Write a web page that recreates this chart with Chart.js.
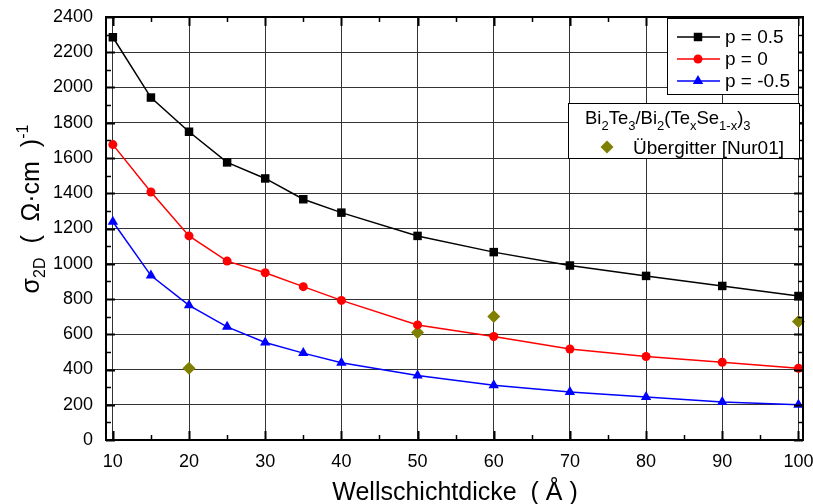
<!DOCTYPE html>
<html>
<head>
<meta charset="utf-8">
<script src="https://cdn.jsdelivr.net/npm/chart.js@4.4.0/dist/chart.umd.min.js"></script>
<style>
  html, body { margin: 0; padding: 0; background: #fff; }
  #wrap { width: 813px; height: 504px; }
</style>
</head>
<body>
<div id="wrap"><canvas id="chart" width="813" height="504"></canvas></div>
<script>
// ---------------- DATA ----------------
const thickness = [10, 15, 20, 25, 30, 35, 40, 50, 60, 70, 80, 90, 100];
const sigmaP05 = [2285, 1943, 1749, 1575, 1484, 1366, 1290, 1158, 1066, 990, 931, 874, 817];
const sigmaP0 = [1676, 1407, 1158, 1015, 949, 870, 792, 653, 587, 516, 474, 441, 407];
const sigmaPm05 = [1238, 933, 764, 642, 553, 493, 438, 366, 310, 273, 244, 215, 200];

const nurX = [20, 50, 60, 100];
const nurY = [407, 610, 701, 672];

const seriesLabels = ['p = 0.5', 'p = 0', 'p = -0.5'];
const nurLabel = 'Übergitter [Nur01]';

const xTicks = [10, 20, 30, 40, 50, 60, 70, 80, 90, 100];
const yTicks = [0, 200, 400, 600, 800, 1000, 1200, 1400, 1600, 1800, 2000, 2200, 2400];

const FONT = 'Arial, "Liberation Sans", sans-serif';

const toPoints = (xs, ys) => xs.map((x, i) => ({ x, y: ys[i] }));

// ---------------- FRAME + INWARD TICKS ----------------
const framePlugin = {
  id: 'frame',
  afterDatasetsDraw(chart) {
    const { ctx, chartArea: a, scales: { x, y } } = chart;
    ctx.save();
    ctx.strokeStyle = '#000';

    const mid = arr => arr.slice(1).map((v, i) => (v + arr[i]) / 2);

    // x ticks (bottom + top)
    ctx.lineWidth = 2;
    xTicks.forEach(v => {
      const px = Math.round(x.getPixelForValue(v)) + 0.5;
      ctx.beginPath();
      ctx.moveTo(px, a.bottom); ctx.lineTo(px, a.bottom - 9);
      ctx.moveTo(px, a.top); ctx.lineTo(px, a.top + 9);
      ctx.stroke();
    });
    ctx.lineWidth = 1.5;
    mid(xTicks).forEach(v => {
      const px = Math.round(x.getPixelForValue(v)) + 0.5;
      ctx.beginPath();
      ctx.moveTo(px, a.bottom); ctx.lineTo(px, a.bottom - 5);
      ctx.moveTo(px, a.top); ctx.lineTo(px, a.top + 5);
      ctx.stroke();
    });

    // y ticks (left + right)
    ctx.lineWidth = 2;
    yTicks.forEach(v => {
      const py = Math.round(y.getPixelForValue(v)) + 0.5;
      ctx.beginPath();
      ctx.moveTo(a.left, py); ctx.lineTo(a.left + 9, py);
      ctx.moveTo(a.right, py); ctx.lineTo(a.right - 9, py);
      ctx.stroke();
    });
    ctx.lineWidth = 1.5;
    mid(yTicks).forEach(v => {
      const py = Math.round(y.getPixelForValue(v)) + 0.5;
      ctx.beginPath();
      ctx.moveTo(a.left, py); ctx.lineTo(a.left + 5, py);
      ctx.moveTo(a.right, py); ctx.lineTo(a.right - 5, py);
      ctx.stroke();
    });

    ctx.lineWidth = 2;
    ctx.strokeRect(a.left, a.top, a.right - a.left, a.bottom - a.top);
    ctx.restore();
  }
};

// draws a run of [text, shift, size] pieces, returns the end x
function drawRuns(ctx, runs, x, y) {
  runs.forEach(([txt, shift, size]) => {
    ctx.font = `${size}px ${FONT}`;
    ctx.fillText(txt, x, y + shift);
    x += ctx.measureText(txt).width;
  });
  return x;
}
function runsWidth(ctx, runs) {
  let w = 0;
  runs.forEach(([txt, , size]) => {
    ctx.font = `${size}px ${FONT}`;
    w += ctx.measureText(txt).width;
  });
  return w;
}

// ---------------- LEGENDS + AXIS TITLES ----------------
const legendPlugin = {
  id: 'boxLegends',
  afterDraw(chart) {
    const { ctx } = chart;
    ctx.save();
    ctx.textBaseline = 'alphabetic';

    // series legend
    ctx.fillStyle = '#fff';
    ctx.fillRect(667, 18, 132, 76);
    ctx.strokeStyle = '#000';
    ctx.lineWidth = 1;
    ctx.strokeRect(667.5, 18.5, 131, 76);

    const rows = [37, 59, 81];
    [0, 1, 2].forEach(i => {
      const ds = chart.data.datasets[i];
      const yy = rows[i];
      ctx.strokeStyle = ds.borderColor;
      ctx.lineWidth = 1.5;
      ctx.beginPath();
      ctx.moveTo(677, yy); ctx.lineTo(720, yy);
      ctx.stroke();
      ctx.fillStyle = ds.backgroundColor;
      Chart.helpers.drawPoint(ctx, { pointStyle: ds.pointStyle, radius: ds.pointRadius, rotation: 0, borderWidth: 0 }, 698, yy);
      ctx.fillStyle = '#000';
      ctx.font = `19px ${FONT}`;
      ctx.textBaseline = 'middle';
      ctx.fillText(seriesLabels[i], 725, yy + 1);
    });

    // reference data legend
    ctx.fillStyle = '#fff';
    ctx.fillRect(568, 103, 232, 56);
    ctx.strokeStyle = '#000';
    ctx.lineWidth = 1;
    ctx.strokeRect(568.5, 103.5, 231, 55);

    ctx.fillStyle = '#000';
    ctx.textBaseline = 'alphabetic';
    drawRuns(ctx, [
      ['Bi', 0, 18.5], ['2', 6, 13], ['Te', 0, 18.5], ['3', 6, 13], ['/Bi', 0, 18.5], ['2', 6, 13],
      ['(Te', 0, 18.5], ['x', 6, 13], ['Se', 0, 18.5], ['1-x', 6, 13], [')', 0, 18.5], ['3', 6, 13]
    ], 585, 124);

    const nd = chart.data.datasets[3];
    ctx.fillStyle = nd.backgroundColor;
    Chart.helpers.drawPoint(ctx, { pointStyle: nd.pointStyle, radius: nd.pointRadius, rotation: 0, borderWidth: 0 }, 607, 147);
    ctx.fillStyle = '#000';
    ctx.font = `19px ${FONT}`;
    ctx.fillText(nurLabel, 633, 154);

    // rotated y title: sigma_2D ( Ω·cm )^-1
    const yRuns = [['σ', 0, 25], ['2D', 6, 16], ['  (  Ω·cm  )', 0, 25], ['-1', -11, 16]];
    const w = runsWidth(ctx, yRuns);
    ctx.translate(39, 209);
    ctx.rotate(-Math.PI / 2);
    drawRuns(ctx, yRuns, -w / 2, 0);
    ctx.restore();

    // x title
    ctx.save();
    ctx.fillStyle = '#000';
    ctx.font = `25px ${FONT}`;
    ctx.textAlign = 'center';
    ctx.fillText('Wellschichtdicke  ( Å )', 455, 500);
    ctx.restore();
  }
};

// ---------------- CHART ----------------
const ctx = document.getElementById('chart').getContext('2d');

new Chart(ctx, {
  type: 'line',
  data: {
    datasets: [
      {
        label: seriesLabels[0],
        data: toPoints(thickness, sigmaP05),
        borderColor: '#000',
        backgroundColor: '#000',
        borderWidth: 1.5,
        pointStyle: 'rect',
        pointRadius: 6,
        pointBorderWidth: 0
      },
      {
        label: seriesLabels[1],
        data: toPoints(thickness, sigmaP0),
        borderColor: '#ff0000',
        backgroundColor: '#ff0000',
        borderWidth: 1.5,
        pointStyle: 'circle',
        pointRadius: 4.5,
        pointBorderWidth: 0
      },
      {
        label: seriesLabels[2],
        data: toPoints(thickness, sigmaPm05),
        borderColor: '#0000ff',
        backgroundColor: '#0000ff',
        borderWidth: 1.5,
        pointStyle: 'triangle',
        pointRadius: 6,
        pointBorderWidth: 0
      },
      {
        label: nurLabel,
        data: toPoints(nurX, nurY),
        showLine: false,
        borderColor: '#808000',
        backgroundColor: '#808000',
        pointStyle: 'rectRot',
        pointRadius: 6.5,
        pointBorderWidth: 0
      }
    ]
  },
  options: {
    responsive: false,
    animation: false,
    devicePixelRatio: 1,
    clip: false,
    layout: { padding: { left: 0, top: 17, right: 10, bottom: 0 } },
    plugins: {
      legend: { display: false },
      title: { display: false },
      tooltip: { enabled: false }
    },
    scales: {
      x: {
        type: 'linear',
        min: 9.1,
        max: 100.6,
        afterBuildTicks: s => { s.ticks = xTicks.map(v => ({ value: v })); },
        afterFit: s => { s.height = 64; s.paddingLeft = 0; s.paddingRight = 0; },
        ticks: {
          color: '#000',
          font: { size: 18, family: FONT },
          padding: 11,
          maxRotation: 0,
          autoSkip: false,
          callback: v => String(v)
        },
        grid: { color: '#333', lineWidth: 1, drawTicks: false },
        border: { display: true, color: '#000', width: 2 }
      },
      y: {
        type: 'linear',
        min: 0,
        max: 2400,
        afterBuildTicks: s => { s.ticks = yTicks.map(v => ({ value: v })); },
        afterFit: s => { s.width = 106; s.paddingTop = 0; s.paddingBottom = 0; },
        ticks: {
          color: '#000',
          font: { size: 18, family: FONT },
          padding: 13,
          autoSkip: false,
          callback: v => String(v)
        },
        grid: { color: '#333', lineWidth: 1, drawTicks: false },
        border: { display: true, color: '#000', width: 2 }
      }
    }
  },
  plugins: [framePlugin, legendPlugin]
});
</script>
</body>
</html>
